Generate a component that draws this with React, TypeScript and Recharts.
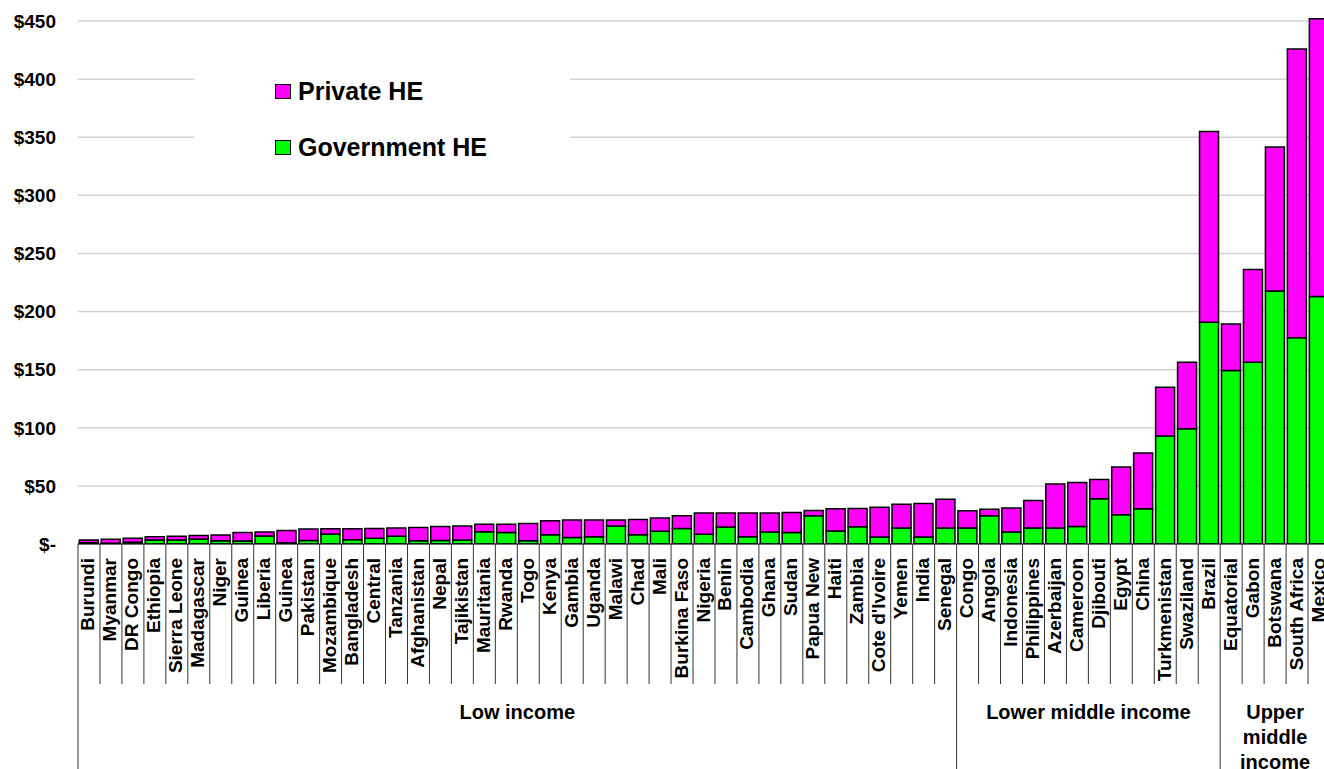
import React from 'react';
import { BarChart, Bar, XAxis, YAxis, CartesianGrid, Legend } from 'recharts';

// pays, dans l'ordre du graphique
const countries = [
  'Burundi', 'Myanmar', 'DR Congo', 'Ethiopia', 'Sierra Leone', 'Madagascar', 'Niger', 'Guinea',
  'Liberia', 'Guinea', 'Pakistan', 'Mozambique', 'Bangladesh', 'Central', 'Tanzania', 'Afghanistan',
  'Nepal', 'Tajikistan', 'Mauritania', 'Rwanda', 'Togo', 'Kenya', 'Gambia', 'Uganda', 'Malawi',
  'Chad', 'Mali', 'Burkina Faso', 'Nigeria', 'Benin', 'Cambodia', 'Ghana', 'Sudan', 'Papua New',
  'Haiti', 'Zambia', "Cote d'Ivoire", 'Yemen', 'India', 'Senegal',
  'Congo', 'Angola', 'Indonesia', 'Philippines', 'Azerbaijan', 'Cameroon', 'Djibouti', 'Egypt',
  'China', 'Turkmenistan', 'Swaziland', 'Brazil',
  'Equatorial', 'Gabon', 'Botswana', 'South Africa', 'Mexico',
];

const governmentHE = [
  1.0, 0.6, 1.5, 3.4, 3.4, 4.3, 2.9, 2.6, 6.9, 1.1, 3.1, 8.6, 3.7, 4.9, 6.6, 2.9,
  3.1, 3.4, 10.6, 10.0, 2.9, 8.0, 5.7, 6.3, 15.4, 8.0, 10.9, 13.4, 8.3, 14.6, 6.3, 10.3,
  10.0, 24.3, 11.1, 14.9, 6.0, 13.7, 6.0, 13.7,
  13.7, 24.3, 10.3, 13.7, 13.7, 15.1, 38.9, 25.1, 30.3, 92.9, 99.2, 190.7,
  149.2, 156.4, 217.6, 177.5, 213,
];

const privateHE = [
  2.4, 3.4, 3.4, 2.9, 3.2, 3.1, 4.8, 7.4, 3.4, 10.6, 9.8, 4.5, 9.4, 8.5, 7.1, 11.4,
  12.0, 12.0, 6.5, 7.1, 14.8, 12.0, 14.9, 14.3, 5.2, 13.1, 11.4, 10.9, 18.3, 12.0, 20.3, 16.3,
  17.1, 4.6, 19.2, 15.7, 25.7, 20.6, 28.9, 24.9,
  14.9, 5.7, 20.6, 23.7, 38.0, 37.8, 16.5, 41.2, 48.0, 42.0, 57.2, 164.3,
  40.1, 79.7, 124.0, 248.5, 239,
];

const incomeGroups = ['Low income', 'Lower middle income', 'Upper middle income'];
const groupSizes = [40, 12, 5];

const yTicks = [0, 50, 100, 150, 200, 250, 300, 350, 400, 450];
const Y_MAX = 460;

const FONT = '"Liberation Sans", Arial, Helvetica, sans-serif';

const data = countries.map((country, i) => ({
  country,
  gov: governmentHE[i],
  priv: privateHE[i],
}));

// indices de début de chaque groupe de revenu
const groupStarts = groupSizes.map((_, g) => groupSizes.slice(0, g).reduce((a, b) => a + b, 0));

const CountryTick = (props: any) => {
  const { x, y, payload, index } = props;
  const half = payload && payload.offset ? payload.offset : 11;
  const left = x - half;
  const g = groupStarts.indexOf(index);
  const isLast = index === countries.length - 1;

  let groupLabel = null;
  if (g >= 0) {
    const center = left + groupSizes[g] * half;
    const lines = groupSizes[g] < 8 ? incomeGroups[g].split(' ') : [incomeGroups[g]];
    groupLabel = (
      <text x={center} y={y + 168} textAnchor="middle" fontSize={20} fontWeight="bold" fill="#000" fontFamily={FONT}>
        {lines.map((l, k) => (
          <tspan key={k} x={center} dy={k === 0 ? 0 : 25} dominantBaseline="central">
            {l}
          </tspan>
        ))}
      </text>
    );
  }

  return (
    <g>
      <line x1={left} x2={left} y1={y} y2={y + (g >= 0 ? 240 : 140)} stroke="#333" strokeWidth={1} />
      {isLast && <line x1={x + half} x2={x + half} y1={y} y2={y + 240} stroke="#333" strokeWidth={1} />}
      <text
        transform={`translate(${x - 1},${y + 14}) rotate(-90)`}
        textAnchor="end"
        dominantBaseline="central"
        fontSize={19}
        fontWeight="bold"
        fill="#000"
        fontFamily={FONT}
      >
        {payload.value}
      </text>
      {groupLabel}
    </g>
  );
};

const LegendBox = () => {
  const items = [
    { label: 'Private HE', color: '#ff00ff' },
    { label: 'Government HE', color: '#00ff00' },
  ];
  return (
    <div style={{ position: 'relative', width: 376, height: 155, background: '#fff', fontFamily: FONT }}>
      {items.map((it, i) => (
        <div
          key={it.label}
          style={{
            position: 'absolute',
            left: 81,
            top: 61.5 + i * 55.5 - 15,
            height: 30,
            display: 'flex',
            alignItems: 'center',
            whiteSpace: 'nowrap',
          }}
        >
          <span
            style={{
              display: 'inline-block',
              width: 14,
              height: 13,
              background: it.color,
              border: '1.5px solid #000',
              marginRight: 7,
            }}
          />
          <span style={{ fontSize: 25, fontWeight: 'bold', color: '#000' }}>{it.label}</span>
        </div>
      ))}
    </div>
  );
};

// lignes de grille seulement aux graduations
const gridRows = (p: any) => {
  const ax = p && p.yAxis;
  if (ax && typeof ax.scale === 'function') return yTicks.map((t) => ax.scale(t));
  const o = p.offset;
  return yTicks.map((t) => o.top + o.height * (1 - t / Y_MAX));
};

export default function App() {
  return (
    <div style={{ position: 'absolute', left: 0, top: 0, width: 1324, height: 769, overflow: 'hidden', background: '#fff' }}>
      <BarChart
        width={1340}
        height={775}
        data={data}
        margin={{ top: 9.4, right: 10, bottom: 0, left: 0 }}
        barCategoryGap="6%"
        style={{ fontFamily: FONT }}
      >
        <CartesianGrid vertical={false} stroke="#d2d2d2" strokeWidth={1.5} horizontalCoordinatesGenerator={gridRows} />
        <XAxis
          dataKey="country"
          interval={0}
          height={231}
          tickSize={0}
          tickMargin={0}
          tickLine={false}
          axisLine={{ stroke: '#000', strokeWidth: 1 }}
          tick={<CountryTick />}
        />
        <YAxis
          width={78}
          domain={[0, Y_MAX]}
          ticks={yTicks}
          allowDataOverflow
          axisLine={false}
          tickLine={false}
          tickSize={0}
          tickMargin={22}
          tickFormatter={(v: number) => (v === 0 ? '$-' : `$${v}`)}
          tick={{ fontSize: 19, fontWeight: 'bold', fill: '#000', fontFamily: FONT }}
        />
        <Legend
          layout="vertical"
          align="center"
          verticalAlign="middle"
          content={<LegendBox />}
          wrapperStyle={{ position: 'absolute', left: 194, top: 30, width: 376, height: 155 }}
        />
        <Bar dataKey="gov" name="Government HE" stackId="he" fill="#00ff00" stroke="#000" strokeWidth={1.5} isAnimationActive={false} />
        <Bar dataKey="priv" name="Private HE" stackId="he" fill="#ff00ff" stroke="#000" strokeWidth={1.5} isAnimationActive={false} />
      </BarChart>
    </div>
  );
}
